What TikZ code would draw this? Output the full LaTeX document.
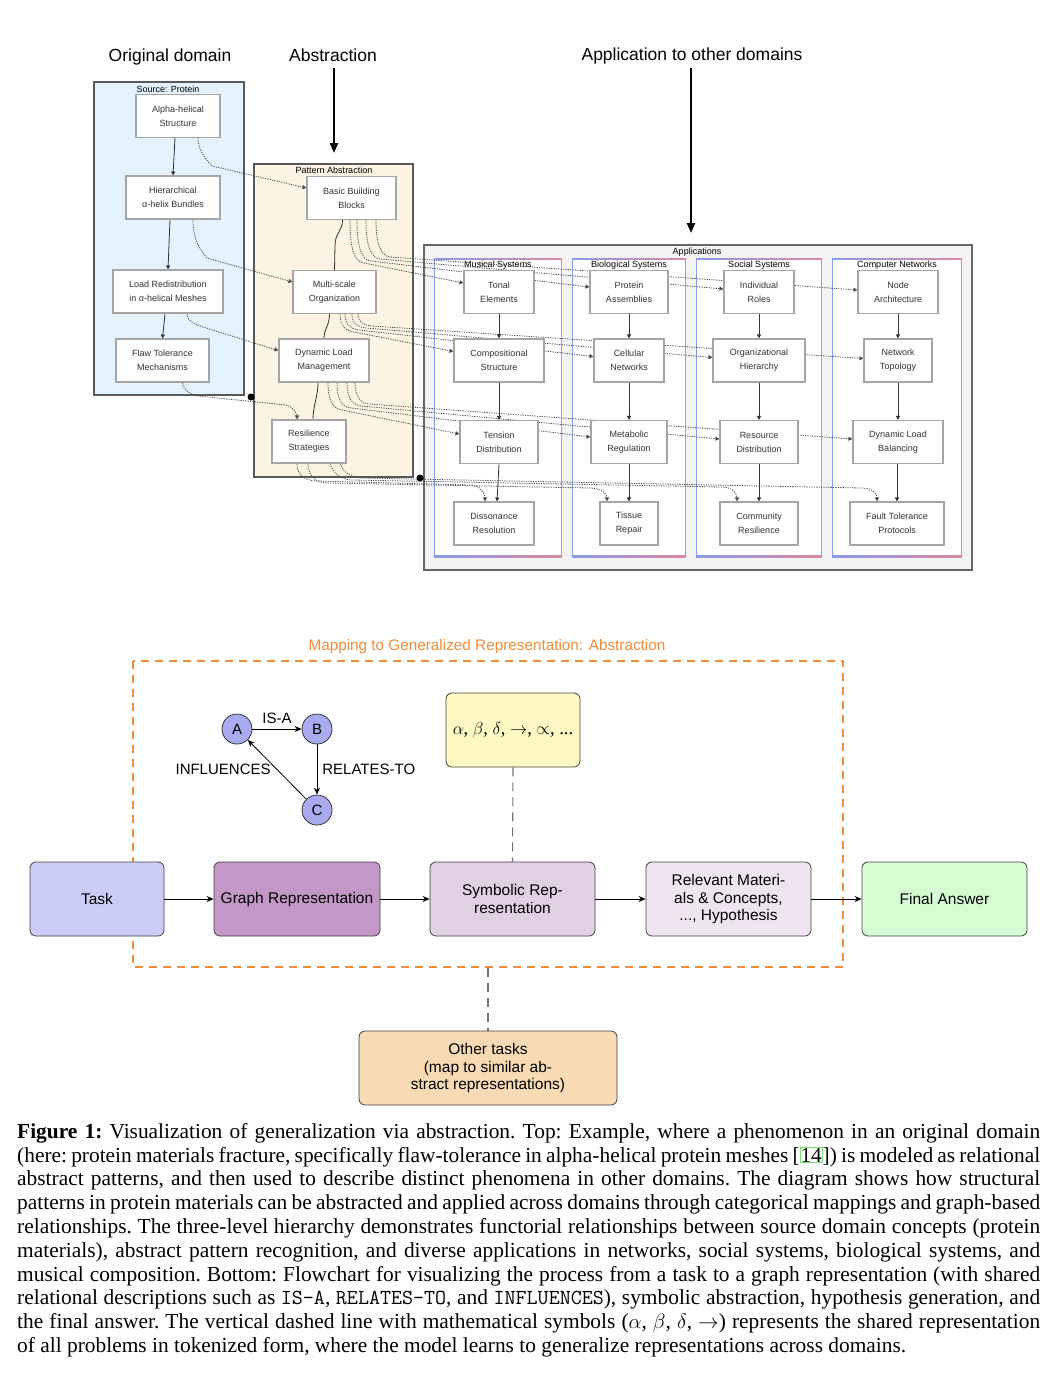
\documentclass[tikz,border=0pt]{standalone}
\usepackage{fontspec}
\setmainfont{Liberation Serif}
\newfontfamily\sansf{Liberation Sans}
\usetikzlibrary{arrows.meta,calc}
\definecolor{srcblue}{RGB}{227,242,252}
\definecolor{patbeige}{RGB}{252,243,226}
\definecolor{appgray}{RGB}{244,244,244}
\definecolor{frameblue}{RGB}{135,155,240}
\definecolor{framepink}{RGB}{225,135,160}
\definecolor{nodeedge}{RGB}{165,165,165}
\definecolor{txtgray}{RGB}{51,51,51}
\definecolor{mapor}{RGB}{242,140,56}
\definecolor{taskc}{RGB}{204,204,248}
\definecolor{graphc}{RGB}{196,152,198}
\definecolor{symbc}{RGB}{225,207,228}
\definecolor{relc}{RGB}{239,229,240}
\definecolor{finalc}{RGB}{214,252,210}
\definecolor{otherc}{RGB}{248,218,180}
\definecolor{yellowc}{RGB}{255,249,196}
\definecolor{circc}{RGB}{170,170,240}
\definecolor{linkgreen}{RGB}{120,225,120}
\pgfdeclarelayer{bg}
\pgfdeclarelayer{edges}
\pgfsetlayers{bg,edges,main}
\newcommand\citebox[1]{{\color{linkgreen}\fboxsep=0pt\fboxrule=0.8pt\fbox{\color{black}#1}}}
\newcommand\capline[1]{\hbox to 1023pt{#1}}
\newcommand\appframe[4]{%
  \fill[white] (#1,#2) rectangle (#3,#4);
  \fill[frameblue] (#1,#2) rectangle (#1+1.3,#4);
  \fill[framepink] (#3-1.3,#2) rectangle (#3,#4);
  \shade[left color=frameblue, right color=framepink] (#1,#2) rectangle (#3,#2+1.3);
  \shade[left color=frameblue, right color=framepink] (#1,#4-1.3) rectangle (#3,#4);
}
\begin{document}
\begin{tikzpicture}[x=1pt,y=-1pt,
  heading/.style={font=\sansf\fontsize{17.5}{20}\selectfont, text=black, inner sep=0, anchor=base},
  ctitle/.style={font=\sansf\fontsize{9}{11}\selectfont, text=black, inner sep=0},
  mn/.style={draw=nodeedge, fill=white, line width=1.1pt, font=\sansf\fontsize{9}{14}\selectfont, text=txtgray, align=center, inner sep=0, minimum height=43},
  solidarr/.style={draw=txtgray, line width=0.8pt, -{Triangle[length=4pt,width=4pt]}},
  solidln/.style={draw=txtgray, line width=0.8pt},
  dotarr/.style={draw=black!70, line width=0.8pt, dash pattern=on 1.2pt off 1.2pt, -{Triangle[length=4pt,width=4pt]}},
  bigarr/.style={line width=2.2pt, -{Triangle[length=10pt,width=8pt]}},
  flow/.style={draw=black!75, line width=0.8pt, rounded corners=6pt, minimum height=74, align=center, font=\sansf\fontsize{15.5}{17.8}\selectfont, inner sep=0},
  flowarr/.style={line width=0.8pt, -{Stealth[length=7pt,width=6pt]}},
  gnode/.style={circle, draw=black!80, line width=0.8pt, fill=circc, minimum size=30, inner sep=0, font=\sansf\fontsize{15}{17}\selectfont},
  glabel/.style={font=\sansf\fontsize{15}{17}\selectfont, inner sep=0},
  gdash/.style={draw=black!55, line width=1.1pt, dash pattern=on 9pt off 6pt}
]
\useasboundingbox (0,0) rectangle (1062,1376);

% ---------- headings ----------
\node[heading] (h1) at (170,61.5) {Original domain};
\node[heading] (h2) at (333,61.5) {Abstraction};
\node[heading] (h3) at (692,60) {Application to other domains};
\coordinate (a2s) at (334,68); \coordinate (a2e) at (334,153);
\coordinate (a3s) at (691,68); \coordinate (a3e) at (691,233);
\draw[bigarr] (a2s) -- (a2e);
\draw[bigarr] (a3s) -- (a3e);

% ---------- clusters ----------
\begin{pgfonlayer}{bg}
\draw[draw=black!65, line width=1.3pt, fill=srcblue] (94,82) rectangle (244,395);
\node[ctitle] (tsrc) at (168,89) {Source: Protein};
\draw[draw=black!65, line width=1.3pt, fill=patbeige] (254,164) rectangle (413,477);
\node[ctitle] (tpat) at (334,170) {Pattern Abstraction};
\draw[draw=black!60, line width=1.8pt, fill=appgray] (424,245) rectangle (972,570);
\node[ctitle] (tapp) at (697,252) {Applications};
\appframe{434}{258}{562}{557}
\appframe{572}{258}{686}{557}
\appframe{696}{258}{822}{557}
\appframe{832}{258}{962}{557}
\node[ctitle] (tmus) at (498,265) {Musical Systems};
\node[ctitle] (tbio) at (629,265) {Biological Systems};
\node[ctitle] (tsoc) at (759,265) {Social Systems};
\node[ctitle] (tnet) at (897,265) {Computer Networks};
\end{pgfonlayer}

% ---------- nodes ----------
\node[mn, minimum width=84] (alpha) at (178,116) {Alpha-helical\\Structure};
\node[mn, minimum width=94] (hier) at (173,197.5) {Hierarchical\\α-helix Bundles};
\node[mn, minimum width=110] (load) at (168,291.5) {Load Redistribution\\in α-helical Meshes};
\node[mn, minimum width=93] (flaw) at (162.5,360.5) {Flaw Tolerance\\Mechanisms};

\node[mn, minimum width=89] (bbb) at (351.5,198) {Basic Building\\Blocks};
\node[mn, minimum width=83] (mso) at (334.5,292) {Multi-scale\\Organization};
\node[mn, minimum width=90] (dlm) at (324,360.5) {Dynamic Load\\Management};
\node[mn, minimum width=74] (rs) at (309,441.5) {Resilience\\Strategies};

\node[mn, minimum width=70] (tonal) at (499,292) {Tonal\\Elements};
\node[mn, minimum width=90] (comp) at (499,360.5) {Compositional\\Structure};
\node[mn, minimum width=78] (tens) at (499,442) {Tension\\Distribution};
\node[mn, minimum width=80] (diss) at (494,523.5) {Dissonance\\Resolution};

\node[mn, minimum width=78] (prot) at (629,292) {Protein\\Assemblies};
\node[mn, minimum width=70] (cell) at (629,360.5) {Cellular\\Networks};
\node[mn, minimum width=76] (metab) at (629,442) {Metabolic\\Regulation};
\node[mn, minimum width=58] (tissue) at (629,523.5) {Tissue\\Repair};

\node[mn, minimum width=70] (indiv) at (759,292) {Individual\\Roles};
\node[mn, minimum width=92] (org) at (759,360.5) {Organizational\\Hierarchy};
\node[mn, minimum width=78] (resd) at (759,442) {Resource\\Distribution};
\node[mn, minimum width=78] (comm) at (759,523.5) {Community\\Resilience};

\node[mn, minimum width=80] (nodea) at (898,292) {Node\\Architecture};
\node[mn, minimum width=68] (nett) at (898,360.5) {Network\\Topology};
\node[mn, minimum width=90] (dlb) at (898,442) {Dynamic Load\\Balancing};
\node[mn, minimum width=94] (fault) at (897,523.5) {Fault Tolerance\\Protocols};

% ---------- edges ----------
\begin{pgfonlayer}{edges}
% source chain
\draw[solidarr] ([xshift=-3pt]alpha.south) -- (hier.north);
\draw[solidarr] ([xshift=-3pt]hier.south) -- (load.north);
\draw[solidarr] ([xshift=-3pt]load.south) -- (flaw.north);
% pattern chain
\draw[solidln] ([xshift=-9pt]bbb.south) .. controls +(0,12) and +(0,-14) .. (335,246) -- (mso.north);
\draw[solidln] ([xshift=-5pt]mso.south) .. controls +(0,12) and +(0,-10) .. (dlm.north);
\draw[solidln] ([xshift=-6pt]dlm.south) .. controls +(0,14) and +(0,-14) .. ([xshift=4pt]rs.north);
% source -> pattern
\draw[dotarr] ([xshift=20pt]alpha.south) .. controls +(0,14) and +(-4,-5) .. (212,166) -- ([yshift=10pt]bbb.west);
\draw[dotarr] ([xshift=20pt]hier.south) .. controls +(0,22) and +(-5,-6) .. (207,258) -- ([yshift=10pt]mso.west);
\draw[dotarr] ([xshift=19pt]load.south) .. controls +(0,8) and +(-6,-2) .. (203,327) -- ([yshift=10pt]dlm.west);
\draw[dotarr] ([xshift=20pt]flaw.south) .. controls +(0,8) and +(-6,-1) .. (198,396) -- (286,405) .. controls +(6,1) and +(0,-6) .. ([xshift=-12pt]rs.north);
% row 1
\draw[dotarr] ([xshift=-1.5pt]bbb.south) .. controls +(0,28) and +(-10,-1) .. (364,263) -- ([yshift=9pt]tonal.west);
\draw[dotarr] ([xshift=5.5pt]bbb.south) .. controls +(0,26) and +(-10,-1) .. (371,261) -- ([yshift=5pt]prot.west);
\draw[dotarr] ([xshift=14.5pt]bbb.south) .. controls +(0,24) and +(-10,-1) .. (380,259) -- ([yshift=3pt]indiv.west);
\draw[dotarr] ([xshift=24.5pt]bbb.south) .. controls +(0,22) and +(-10,-1) .. (390,257) -- ([yshift=2pt]nodea.west);
% row 2
\draw[dotarr] ([xshift=5.5pt]mso.south) .. controls +(0,12) and +(-8,-1) .. (354,332) -- ([yshift=9pt]comp.west);
\draw[dotarr] ([xshift=10.5pt]mso.south) .. controls +(0,11) and +(-8,-1) .. (359,330) -- ([yshift=4pt]cell.west);
\draw[dotarr] ([xshift=17.5pt]mso.south) .. controls +(0,10) and +(-8,-1) .. (366,328) -- ([yshift=3pt]org.west);
\draw[dotarr] ([xshift=23.5pt]mso.south) .. controls +(0,9) and +(-8,-1) .. (372,326) -- ([yshift=2pt]nett.west);
% row 3
\draw[dotarr] ([xshift=4pt]dlm.south) .. controls +(0,20) and +(-8,-1) .. (342,410) -- ([yshift=8pt]tens.west);
\draw[dotarr] ([xshift=13pt]dlm.south) .. controls +(0,19) and +(-8,-1) .. (351,408) -- ([yshift=5pt]metab.west);
\draw[dotarr] ([xshift=23pt]dlm.south) .. controls +(0,17) and +(-8,-1) .. (361,406) -- ([yshift=3pt]resd.west);
\draw[dotarr] ([xshift=31pt]dlm.south) .. controls +(0,15) and +(-8,-1) .. (369,404) -- ([yshift=3pt]dlb.west);
% row 4
\draw[dotarr] ([xshift=-12pt]rs.south) .. controls +(0,14) and +(-10,0) .. (318,481) -- (470,485) .. controls +(10,0) and +(0,-8) .. ([xshift=-9pt]diss.north);
\draw[dotarr] ([xshift=-1pt]rs.south) .. controls +(0,14) and +(-10,0) .. (328,483) -- (590,488) .. controls +(10,0) and +(0,-8) .. ([xshift=-22pt]tissue.north);
\draw[dotarr] ([xshift=21pt]rs.south) .. controls +(3,10) and +(-10,0) .. (352,480) -- (722,487) .. controls +(10,0) and +(0,-8) .. ([xshift=-22pt]comm.north);
\draw[dotarr] ([xshift=31pt]rs.south) .. controls +(3,9) and +(-10,0) .. (362,478) -- (862,488) .. controls +(10,0) and +(0,-8) .. ([xshift=-20pt]fault.north);
% application chains
\draw[solidarr] (tonal.south) -- (comp.north);
\draw[solidarr] (comp.south) -- (tens.north);
\draw[solidarr] (tens.south) -- ([xshift=3pt]diss.north);
\draw[solidarr] (prot.south) -- (cell.north);
\draw[solidarr] (cell.south) -- (metab.north);
\draw[solidarr] (metab.south) -- (tissue.north);
\draw[solidarr] (indiv.south) -- (org.north);
\draw[solidarr] (org.south) -- (resd.north);
\draw[solidarr] (resd.south) -- (comm.north);
\draw[solidarr] (nodea.south) -- (nett.north);
\draw[solidarr] (nett.south) -- (dlb.north);
\draw[solidarr] ([xshift=-1pt]dlb.south) -- (fault.north);
\end{pgfonlayer}
\coordinate (dot1) at (251,397);
\coordinate (dot2) at (420,478);
\fill (dot1) circle (3.5pt);
\fill (dot2) circle (3.5pt);

% ---------- bottom flowchart ----------
\node[font=\sansf\fontsize{15.3}{18}\selectfont, text=mapor, inner sep=0] (maptitle) at (487,647) {Mapping to Generalized Representation: Abstraction};
\draw[mapor, line width=1.8pt, dash pattern=on 8pt off 6pt] (133,661) rectangle (843,967);

\node[gnode] (A) at (237,729) {A};
\node[gnode] (B) at (317,729) {B};
\node[gnode] (C) at (317,810) {C};
\draw[flowarr] (A) -- node[glabel, above=5pt] {IS-A} (B);
\draw[flowarr] (B) -- node[glabel, right=5pt] {RELATES-TO} (C);
\draw[flowarr] (C) -- node[glabel, left=6pt] {INFLUENCES} (A);

\node[flow, fill=yellowc, minimum width=134, font=\fontsize{18.5}{20}\selectfont] (yel) at (513,730) {$\alpha$, $\beta$, $\delta$, $\rightarrow$, $\propto$, ...};

\node[flow, fill=taskc, minimum width=134] (task) at (97,899) {Task};
\node[flow, fill=graphc, minimum width=166] (graph) at (297,899) {Graph Representation};
\node[flow, fill=symbc, minimum width=165] (symb) at (512.5,899) {Symbolic Rep-\\resentation};
\node[flow, fill=relc, minimum width=165] (rel) at (728.5,899) {Relevant Materi-\\als \& Concepts,\\..., Hypothesis};
\node[flow, fill=finalc, minimum width=165] (final) at (944.5,899) {Final Answer};
\node[flow, fill=otherc, minimum width=258] (other) at (488,1068) {Other tasks\\(map to similar ab-\\stract representations)};

\draw[flowarr] (task) -- (graph);
\draw[flowarr] (graph) -- (symb);
\draw[flowarr] (symb) -- (rel);
\draw[flowarr] (rel) -- (final);
\draw[gdash] (yel.south) -- (symb.north);
\coordinate (mapbot) at (488,968);
\draw[gdash] (mapbot) -- (other.north);

% ---------- caption ----------
\node[anchor=north west, inner sep=0, align=left, font=\fontsize{21.4}{23.8}\selectfont\frenchspacing] (cap) at (17,1123) {%
\capline{\textbf{Figure 1:} Visualization of generalization via abstraction. Top: Example, where a phenomenon in an original domain}\\
\capline{(here: protein materials fracture, specifically flaw-tolerance in alpha-helical protein meshes [\citebox{14}]) is modeled as relational}\\
\capline{abstract patterns, and then used to describe distinct phenomena in other domains. The diagram shows how structural}\\
\capline{patterns in protein materials can be abstracted and applied across domains through categorical mappings and graph-based}\\
\capline{relationships. The three-level hierarchy demonstrates functorial relationships between source domain concepts (protein}\\
\capline{materials), abstract pattern recognition, and diverse applications in networks, social systems, biological systems, and}\\
\capline{musical composition. Bottom: Flowchart for visualizing the process from a task to a graph representation (with shared}\\
\capline{relational descriptions such as \texttt{IS-A}, \texttt{RELATES-TO}, and \texttt{INFLUENCES}), symbolic abstraction, hypothesis generation, and}\\
\capline{the final answer. The vertical dashed line with mathematical symbols ($\alpha$, $\beta$, $\delta$, $\rightarrow$) represents the shared representation}\\
of all problems in tokenized form, where the model learns to generalize representations across domains.};
\end{tikzpicture}
\end{document}
